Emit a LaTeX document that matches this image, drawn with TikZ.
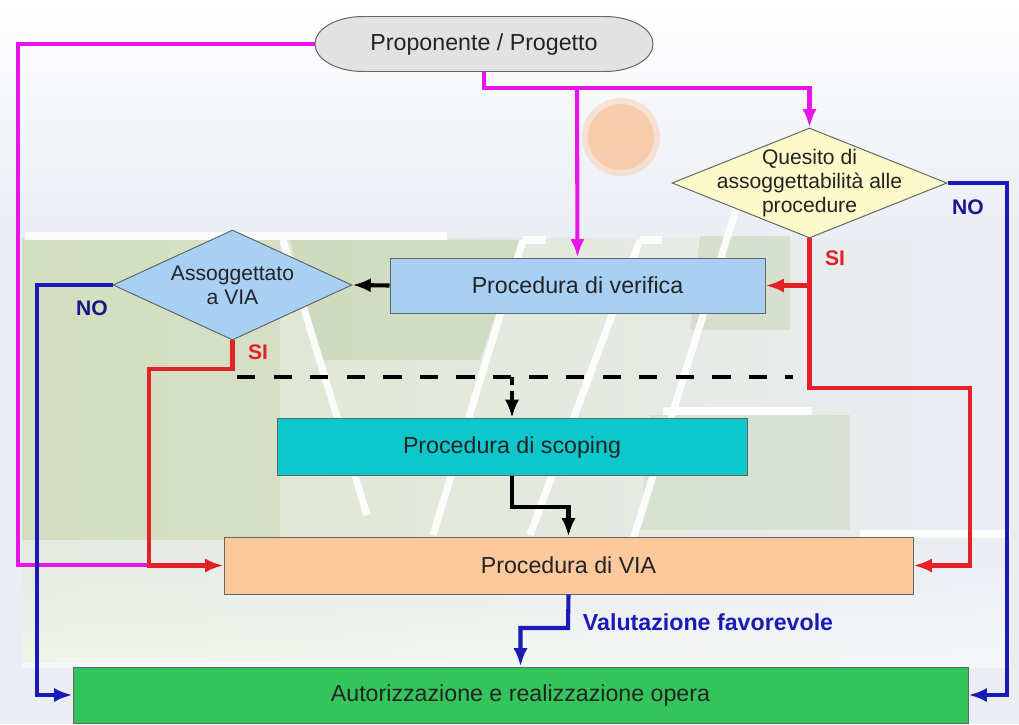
\documentclass[tikz,border=0pt]{standalone}
\usepackage{fontspec}
\setmainfont{Liberation Sans}
\usetikzlibrary{arrows.meta,shapes.geometric}

\definecolor{bgbase}{RGB}{234,237,244}
\definecolor{bggreen}{RGB}{220,229,200}
\definecolor{bggreendk}{RGB}{192,207,168}
\definecolor{magline}{RGB}{232,20,232}
\definecolor{redline}{RGB}{228,32,40}
\definecolor{blueline}{RGB}{26,26,182}
\definecolor{notext}{RGB}{24,24,140}
\definecolor{boxedge}{RGB}{95,105,100}
\definecolor{boxtext}{RGB}{35,35,35}
\definecolor{propfill}{RGB}{226,226,226}
\definecolor{quesitofill}{RGB}{252,250,200}
\definecolor{verifill}{RGB}{168,208,245}
\definecolor{scopfill}{RGB}{12,200,205}
\definecolor{viafill}{RGB}{253,200,155}
\definecolor{autfill}{RGB}{52,196,92}
\definecolor{sunfill}{RGB}{250,190,145}

\newcommand{\pxu}{0.025cm}

\begin{document}
\begin{tikzpicture}[x=0.025cm,y=-0.025cm,
    box/.style={draw=boxedge,line width=0.7pt,text=boxtext,font=\fontsize{16.5}{19}\selectfont},
    rombo/.style={diamond,draw=boxedge,line width=0.7pt,inner sep=0pt},
    rombotext/.style={align=center,text=boxtext,font=\fontsize{15}{17}\selectfont},
    conn/.style={line width=2.9pt},
    tip/.style={-{Latex[length=13pt,width=10pt]}},
    lab/.style={font=\fontsize{15}{18}\selectfont\bfseries}]
    \useasboundingbox (0,0) rectangle (1019,724);
    % sfondo
    \fill[bgbase] (0,0) rectangle (1019,724);
    \shade[top color=white,bottom color=bgbase] (0,0) rectangle (1019,236);
    \shade[left color=bggreen,right color=bgbase] (22,238) rectangle (1010,662);
    \shade[top color=bgbase,bottom color=white,opacity=.6] (22,540) rectangle (1010,667);
    \fill[bggreendk,opacity=.5] (290,240) -- (520,240) -- (480,360) -- (320,360) -- cycle;
    \fill[bggreendk,opacity=.4] (700,236) -- (790,236) -- (790,330) -- (690,330) -- cycle;
    \fill[bggreendk,opacity=.35] (650,415) -- (850,415) -- (850,530) -- (640,530) -- cycle;
    \fill[bggreendk,opacity=.3] (22,240) -- (280,240) -- (280,540) -- (22,540) -- cycle;
    \fill[sunfill,opacity=.35] (621,137) circle (39);
    \fill[sunfill,opacity=.6] (621,137) circle (33);
    \foreach \a/\b in {{25,236}/{447,236},{283,240}/{367,515},{523,240}/{433,535},
                       {640,240}/{530,535},{742,190}/{633,540},{663,411}/{812,411},
                       {860,534}/{1010,534},{523,240}/{546,240},{640,240}/{662,240}}
      \draw[white,line width=5pt,opacity=.9] (\a) -- (\b);

    % nodi
    \draw[boxedge,fill=propfill,line width=0.7pt] (363,16.5) arc(270:90:48 and 27.5) -- (605,71.5) arc(90:-90:48 and 27.5) -- cycle;
    \node[text=boxtext,font=\fontsize{16.5}{19}\selectfont,minimum width=338*\pxu,minimum height=55*\pxu] (prop) at (484,44) {Proponente / Progetto};
    \node[rombo,fill=quesitofill,minimum width=275*\pxu,minimum height=110*\pxu,
          label={[rombotext]center:Quesito di\\assoggettabilità alle\\procedure}] (quesito) at (809.5,183) {};
    \node[box,fill=verifill,minimum width=375*\pxu,minimum height=55*\pxu] (verif) at (577.5,285.5) {Procedura di verifica};
    \node[rombo,fill=verifill,minimum width=239*\pxu,minimum height=110*\pxu,
          label={[rombotext]center:Assoggettato\\a VIA}] (assogg) at (232.5,285) {};
    \node[box,fill=scopfill,minimum width=470*\pxu,minimum height=57*\pxu] (scoping) at (512,447) {Procedura di scoping};
    \node[box,fill=viafill,minimum width=689*\pxu,minimum height=57*\pxu] (via) at (568.5,565.5) {Procedura di VIA};
    \node[box,fill=autfill,minimum width=895*\pxu,minimum height=56*\pxu] (autor) at (520.5,695) {Autorizzazione e realizzazione opera};

    % collegamenti
    \coordinate (split) at (577,88);
    \draw[conn,magline] (prop.west) -| (18,565) -- (149,565);
    \draw[conn,magline] (prop.south) |- (split);
    \draw[conn,magline,tip] (split) -| (quesito.north);
    \draw[conn,magline,tip] (split) -- (verif.north);

    \draw[conn,blueline,tip] (quesito.east) -- (1007,183) |- (autor.east);
    \draw[conn,redline,tip] (quesito.south) |- (verif.east);
    \draw[conn,redline,tip] (quesito.south) |- (970,388) |- (via.east);

    \draw[conn,black,tip] (verif.west) -- (assogg.east);
    \draw[conn,blueline,tip] (assogg.west) -- (37,285) |- (autor.west);
    \draw[conn,redline,tip] (assogg.south) |- (149,369) |- (via.west);

    \coordinate (dashL) at (237,377);
    \coordinate (dashR) at (793,377);
    \draw[conn,black,dash pattern=on 13pt off 13pt] (dashL) -- (dashR);
    \draw[conn,black,dash pattern=on 6pt off 4pt,tip] (512,377) -- (scoping.north);

    \draw[conn,black,tip] (scoping.south) -- (512,507) -| (via.north);
    \draw[conn,blueline,tip] (via.south) -- (568,628) -| (autor.north);

    % etichette
    \node[lab,text=notext] (noR) at (968,207) {NO};
    \node[lab,text=notext] (noL) at (92,308) {NO};
    \node[lab,text=redline] (siR) at (835,258) {SI};
    \node[lab,text=redline] (siL) at (258,352) {SI};
    \node[lab,text=blueline,font=\fontsize{16.5}{19}\selectfont\bfseries,anchor=west] (valut) at (578,622) {Valutazione favorevole};
\end{tikzpicture}
\end{document}
